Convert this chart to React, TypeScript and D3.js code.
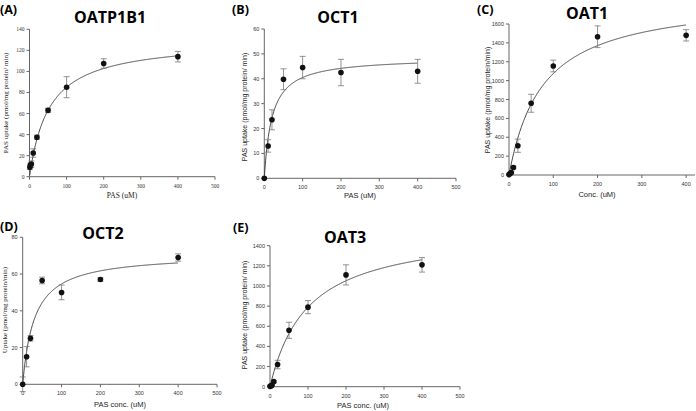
import * as d3 from "d3";

// ---- data ----
const concA = [1, 2.5, 5, 10, 20, 50, 100, 200, 400];
const uptakeA = [9, 11, 12, 22.5, 37.5, 63, 85, 107.5, 114];
const sdA = [2, 2, 3, 4, 2, 2, 10, 4.5, 5];
const fitA = { vmax: 130, km: 53 };

const concB = [0, 10, 20, 50, 100, 200, 400];
const uptakeB = [0, 13, 23.5, 39.8, 44.5, 42.5, 43];
const sdB = [0, 2.5, 4, 4.2, 4.5, 5.3, 4.8];
const fitB = { vmax: 48.6, km: 20 };

const concC = [0, 2.5, 5, 10, 20, 50, 100, 200, 400];
const uptakeC = [5, 15, 25, 80, 310, 760, 1155, 1465, 1480];
const sdC = [5, 5, 10, 15, 70, 95, 62, 115, 60];
const fitC = { vmax: 1892, km: 76 };

const concD = [0, 10, 20, 50, 100, 200, 400];
const uptakeD = [0, 15, 25, 56.5, 50, 57, 69];
const sdD = [4, 5.5, 1.5, 1.8, 4, 1, 2];
const fitD = { vmax: 71, km: 30 };

const concE = [0, 2.5, 5, 10, 20, 50, 100, 200, 400];
const uptakeE = [5, 8, 15, 50, 220, 560, 790, 1110, 1210];
const sdE = [3, 5, 8, 10, 42, 80, 65, 100, 72];
const fitE = { vmax: 1572, km: 99 };

const SERIF = "'Liberation Serif', 'DejaVu Serif', serif";
const SANS = "'Liberation Sans', Arial, sans-serif";
const TITLE = "'Open Sans', 'Noto Sans', sans-serif";

interface PanelProps {
  tag: string;
  title: string;
  tagX: number;
  tagY: number;
  titleX: number;
  titleY: number;
  conc: number[];
  uptake: number[];
  sd: number[];
  fit: { vmax: number; km: number };
  xDomain: [number, number];
  xRange: [number, number];
  xTicks: number[];
  yMax: number;
  yStep: number;
  yRange: [number, number];
  xLabel: string;
  yLabel: string;
  xLabelPos: [number, number];
  yLabelPos: [number, number];
  tickFont: string;
  xLabelFont: string;
  yLabelFont: string;
}

const Panel = (p: PanelProps) => {
  const x = d3.scaleLinear().domain(p.xDomain).range(p.xRange);
  const y = d3.scaleLinear().domain([0, p.yMax]).range(p.yRange);
  const yTicks = d3.range(0, p.yMax + 1e-9, p.yStep);
  const pts = p.conc.map((c, i) => ({ c, v: p.uptake[i], sd: p.sd[i] }));
  const xs = d3.range(0.5, 400.01, 1);
  const line = d3
    .line<number>()
    .x((c) => x(c))
    .y((c) => y((p.fit.vmax * c) / (p.fit.km + c)))
    .curve(d3.curveMonotoneX);
  const axisColor = "#666";
  const x0 = p.xRange[0];
  const y0 = p.yRange[0];
  return (
    <g>
      <text x={p.tagX} y={p.tagY} fontFamily={TITLE} fontWeight="bold" fontSize={12.5}>
        {p.tag}
      </text>
      <text x={p.titleX} y={p.titleY} textAnchor="middle" fontFamily={TITLE} fontWeight="bold" fontSize={16}>
        {p.title}
      </text>
      {/* axes */}
      <line x1={x0} x2={x0} y1={p.yRange[1]} y2={y0} stroke={axisColor} strokeWidth={1} />
      <line x1={x0} x2={p.xRange[1]} y1={y0} y2={y0} stroke={axisColor} strokeWidth={1} />
      {yTicks.map((t) => (
        <g key={"y" + t}>
          <line x1={x0 - 3} x2={x0} y1={y(t)} y2={y(t)} stroke={axisColor} />
          <text x={x0 - 5} y={y(t) + 2} textAnchor="end" fontFamily={p.tickFont} fontSize={5.5} fill="#333">
            {t}
          </text>
        </g>
      ))}
      {p.xTicks.map((t) => (
        <g key={"x" + t}>
          <line x1={x(t)} x2={x(t)} y1={y0} y2={y0 + 3} stroke={axisColor} />
          <text x={x(t)} y={y0 + 11} textAnchor="middle" fontFamily={p.tickFont} fontSize={5.5} fill="#333">
            {t}
          </text>
        </g>
      ))}
      <text x={p.xLabelPos[0]} y={p.xLabelPos[1]} textAnchor="middle" fontFamily={p.xLabelFont} fontSize={7.5} fill="#222">
        {p.xLabel}
      </text>
      <text
        transform={`translate(${p.yLabelPos[0]},${p.yLabelPos[1]}) rotate(-90)`}
        textAnchor="middle"
        fontFamily={p.yLabelFont}
        fontSize={7}
        fill="#222"
      >
        {p.yLabel}
      </text>
      {/* fitted curve */}
      <path d={line(xs) ?? ""} fill="none" stroke="#333" strokeWidth={0.9} />
      {/* error bars */}
      {pts.map((d, i) =>
        d.sd > 0 ? (
          <g key={"e" + i} stroke="#777" strokeWidth={0.8}>
            <line x1={x(d.c)} x2={x(d.c)} y1={y(d.v - d.sd)} y2={y(d.v + d.sd)} />
            <line x1={x(d.c) - 3} x2={x(d.c) + 3} y1={y(d.v - d.sd)} y2={y(d.v - d.sd)} />
            <line x1={x(d.c) - 3} x2={x(d.c) + 3} y1={y(d.v + d.sd)} y2={y(d.v + d.sd)} />
          </g>
        ) : null
      )}
      {pts.map((d, i) => (
        <circle key={"p" + i} cx={x(d.c)} cy={y(d.v)} r={2.8} fill="#111" />
      ))}
    </g>
  );
};

const App = () => {
  const ticks500 = [0, 100, 200, 300, 400, 500];
  return (
    <svg
      width={696}
      height={411}
      style={{ position: "absolute", left: 0, top: 0, background: "#fff" }}
    >
      <Panel
        tag="(A)" title="OATP1B1" tagX={0} tagY={14} titleX={110} titleY={23}
        conc={concA} uptake={uptakeA} sd={sdA} fit={fitA}
        xDomain={[0, 500]} xRange={[29.5, 215]} xTicks={ticks500}
        yMax={140} yStep={20} yRange={[176.7, 29.3]}
        xLabel="PAS (uM)" yLabel="PAS uptake (pmol/mg protein/ min)"
        xLabelPos={[122, 198]} yLabelPos={[8, 103]}
        tickFont={SERIF} xLabelFont={SERIF} yLabelFont={SERIF}
      />
      <Panel
        tag="(B)" title="OCT1" tagX={232} tagY={14} titleX={338} titleY={23}
        conc={concB} uptake={uptakeB} sd={sdB} fit={fitB}
        xDomain={[0, 500]} xRange={[264.3, 456]} xTicks={ticks500}
        yMax={60} yStep={10} yRange={[178.3, 29]}
        xLabel="PAS (uM)" yLabel="PAS uptake (pmol/mg protein/ min)"
        xLabelPos={[360, 198]} yLabelPos={[247, 107]}
        tickFont={SANS} xLabelFont={SANS} yLabelFont={SANS}
      />
      <Panel
        tag="(C)" title="OAT1" tagX={477} tagY={14} titleX={587} titleY={19}
        conc={concC} uptake={uptakeC} sd={sdC} fit={fitC}
        xDomain={[0, 420]} xRange={[509, 695]} xTicks={[0, 100, 200, 300, 400]}
        yMax={1600} yStep={200} yRange={[175, 24]}
        xLabel="Conc. (uM)" yLabel="PAS uptake (pmol/mg protein/min)"
        xLabelPos={[597, 197]} yLabelPos={[490, 100]}
        tickFont={SANS} xLabelFont={SANS} yLabelFont={SANS}
      />
      <Panel
        tag="(D)" title="OCT2" tagX={0} tagY={231} titleX={103} titleY={239}
        conc={concD} uptake={uptakeD} sd={sdD} fit={fitD}
        xDomain={[0, 500]} xRange={[22.7, 217]} xTicks={ticks500}
        yMax={80} yStep={20} yRange={[384.3, 237.3]}
        xLabel="PAS conc. (uM)" yLabel="Uptake (pmol/mg protein/min)"
        xLabelPos={[120, 407]} yLabelPos={[7, 310]}
        tickFont={SANS} xLabelFont={SANS} yLabelFont={SERIF}
      />
      <Panel
        tag="(E)" title="OAT3" tagX={233} tagY={232} titleX={345} titleY={243}
        conc={concE} uptake={uptakeE} sd={sdE} fit={fitE}
        xDomain={[0, 500]} xRange={[270, 460]} xTicks={ticks500}
        yMax={1400} yStep={200} yRange={[386.7, 245.7]}
        xLabel="PAS conc. (uM)" yLabel="PAS uptake (pmol/mg protein/ min)"
        xLabelPos={[363, 408]} yLabelPos={[247, 315]}
        tickFont={SANS} xLabelFont={SANS} yLabelFont={SANS}
      />
    </svg>
  );
};

export default App;
